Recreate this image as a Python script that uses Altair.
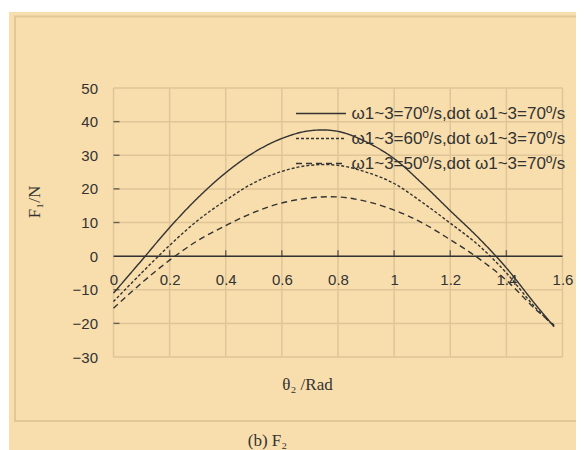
import altair as alt
import pandas as pd

# ---- data ----
theta = [0, 0.1, 0.2, 0.3, 0.4, 0.5, 0.6, 0.7, 0.8, 0.9, 1.0, 1.1, 1.2, 1.3, 1.4, 1.5, 1.57]
f_70 = [-11, -1.3, 8.5, 17.3, 24.8, 30.8, 35.0, 37.3, 37.1, 34.0, 29, 21.6, 13.5, 5.5, -3.5, -14, -21]
f_60 = [-13.5, -5, 3.2, 10.6, 16.6, 21.8, 25.2, 27.0, 27.0, 25, 21.6, 16, 9.8, 3.3, -5, -15, -20.8]
f_50 = [-15.5, -8, -1.2, 4.6, 9.1, 13, 15.8, 17.3, 17.6, 16.3, 13.7, 9.9, 4.9, -0.6, -7.2, -15.5, -20.5]
series = ["ω1~3=70º/s,dot ω1~3=70º/s",
          "ω1~3=60º/s,dot ω1~3=70º/s",
          "ω1~3=50º/s,dot ω1~3=70º/s"]
x_values = [0, 0.2, 0.4, 0.6, 0.8, 1.0, 1.2, 1.4, 1.6]
y_values = [-30, -20, -10, 0, 10, 20, 30, 40, 50]
x_tick_marks = [0.2, 0.4, 0.6, 0.8, 1.0, 1.2, 1.4]
y_tick_marks = [-20, -10, 10, 20, 30, 40]

rows = []
for name, vals in zip(series, [f_70, f_60, f_50]):
    for t, v in zip(theta, vals):
        rows.append({"theta": t, "F": v, "series": name})
df = pd.DataFrame(rows)

BG = "#F8DEAD"
GRID = "#DFC597"
INK = "#333333"
SANS = "Liberation Sans"
SERIF = "Liberation Serif"

W, H = 449, 269
xscale = alt.Scale(domain=[0, 1.6], nice=False, zero=False)
yscale = alt.Scale(domain=[-30, 50], nice=False, zero=False)

x_axis = alt.Axis(values=x_values, format="~g", offset=-101, domain=False,
                  ticks=False, tickSize=0, labelPadding=16, grid=False,
                  title=None, labelFont=SANS, labelFontSize=15,
                  labelColor=INK, labelFlush=False, zindex=1)
y_axis = alt.Axis(values=y_values, domain=False, ticks=False, tickSize=0,
                  labelPadding=16, grid=False,
                  title=None, labelFont=SANS, labelFontSize=15,
                  labelColor=INK, labelFlush=False, zindex=1)

one = pd.DataFrame({"k": [0]})

backdrop = alt.Chart(one).mark_rect(fill=BG, stroke=None).encode(
    x=alt.value(-104.5), x2=alt.value(480), y=alt.value(-76), y2=alt.value(380)
)
frame = alt.Chart(one).mark_rect(fill=None, stroke="#E2C797", strokeWidth=2).encode(
    x=alt.value(-98.5), x2=alt.value(480), y=alt.value(-71.5), y2=alt.value(333)
)

xgrid = alt.Chart(pd.DataFrame({"gx": x_values})).mark_rule(
    color=GRID, strokeWidth=1.5
).encode(x=alt.X("gx:Q", scale=xscale, axis=x_axis))

ygrid = alt.Chart(pd.DataFrame({"gy": y_values})).mark_rule(
    color=GRID, strokeWidth=1.5
).encode(y=alt.Y("gy:Q", scale=yscale, axis=y_axis))

zero_df = pd.DataFrame({"z": [0]})
zero_line = alt.Chart(zero_df).mark_rule(
    color=INK, strokeWidth=1.5
).encode(y=alt.Y("z:Q", scale=yscale, axis=y_axis))

xticks = alt.Chart(pd.DataFrame({"tx": x_tick_marks, "tz": [0] * len(x_tick_marks)})).mark_tick(
    orient="vertical", size=6, thickness=1.4, color=INK, yOffset=-3
).encode(x=alt.X("tx:Q", scale=xscale, axis=x_axis),
         y=alt.Y("tz:Q", scale=yscale, axis=y_axis))

yticks = alt.Chart(pd.DataFrame({"ty": y_tick_marks})).mark_tick(
    orient="horizontal", size=6, thickness=1.4, color=INK
).encode(y=alt.Y("ty:Q", scale=yscale, axis=y_axis), x=alt.value(3))

curves = alt.Chart(df).mark_line(
    interpolate="catmull-rom", strokeWidth=1.4, color=INK
).encode(
    x=alt.X("theta:Q", scale=xscale, axis=x_axis),
    y=alt.Y("F:Q", scale=yscale, axis=y_axis),
    strokeDash=alt.StrokeDash(
        "series:N",
        scale=alt.Scale(domain=series, range=[[1, 0], [3, 2], [6, 4]]),
        legend=alt.Legend(orient="none", legendX=199, legendY=17, title=None,
                          symbolType="M-5,0H5", symbolSize=100,
                          symbolStrokeWidth=1.4, symbolStrokeColor=INK,
                          labelFont=SANS, labelFontSize=17, labelColor=INK,
                          labelOffset=22, rowPadding=7, labelLimit=400),
    ),
)

xtitle = alt.Chart(one).mark_text(font=SERIF, fontSize=17, color=INK).encode(
    x=alt.value(194), y=alt.value(297), text=alt.value("θ₂ /Rad"))
ytitle = alt.Chart(one).mark_text(font=SERIF, fontSize=17, color=INK, angle=270).encode(
    x=alt.value(-79), y=alt.value(114), text=alt.value("F₁/N"))
caption = alt.Chart(one).mark_text(font=SERIF, fontSize=17, color=INK).encode(
    x=alt.value(154), y=alt.value(353), text=alt.value("(b) F₂"))

chart = alt.layer(
    backdrop, frame, xgrid, ygrid, zero_line, xticks, yticks, curves, xtitle, ytitle, caption
).properties(
    width=W, height=H,
    padding={"left": 105.5, "top": 80, "right": 13.5, "bottom": 93},
    autosize=alt.AutoSizeParams(type="none"),
    background="white",
).configure_view(stroke=INK, strokeWidth=1.5)

chart.save("out.html", embed_options={"renderer": "svg", "actions": False})
